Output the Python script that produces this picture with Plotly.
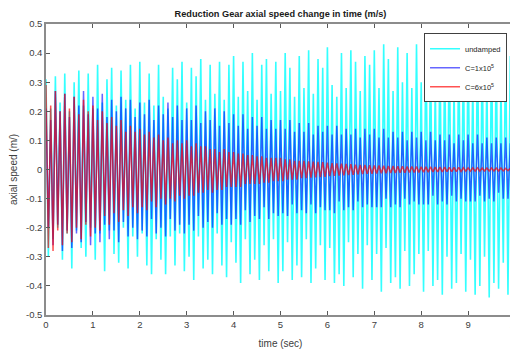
import numpy as np
import plotly.graph_objects as go

# Turning points (successive peaks) of each signal, 20 per second over 0..10 s
undamped = [
    0.31,-0.30, 0.21,-0.24, 0.32,-0.20, 0.23,-0.31, 0.33,-0.22, 0.20,-0.34, 0.30,-0.21, 0.34,-0.27, 0.22,-0.30, 0.33,-0.20,
    0.21,-0.31, 0.36,-0.22, 0.23,-0.35, 0.31,-0.21, 0.35,-0.29, 0.22,-0.32, 0.34,-0.20, 0.24,-0.34, 0.36,-0.23, 0.21,-0.30,
    0.37,-0.22, 0.23,-0.33, 0.33,-0.36, 0.22,-0.24, 0.36,-0.31, 0.25,-0.36, 0.21,-0.23, 0.35,-0.33, 0.31,-0.22, 0.37,-0.35,
    0.23,-0.30, 0.35,-0.38, 0.32,-0.23, 0.38,-0.34, 0.24,-0.31, 0.36,-0.36, 0.26,-0.22, 0.37,-0.33, 0.24,-0.37, 0.36,-0.25,
    0.39,-0.32, 0.25,-0.39, 0.37,-0.24, 0.27,-0.36, 0.40,-0.31, 0.24,-0.38, 0.36,-0.26, 0.38,-0.35, 0.26,-0.24, 0.37,-0.39,
    0.27,-0.35, 0.40,-0.25, 0.35,-0.38, 0.25,-0.33, 0.39,-0.37, 0.28,-0.24, 0.41,-0.39, 0.26,-0.34, 0.38,-0.26, 0.35,-0.38,
    0.42,-0.27, 0.29,-0.39, 0.25,-0.36, 0.40,-0.40, 0.28,-0.25, 0.41,-0.37, 0.37,-0.29, 0.27,-0.41, 0.39,-0.26, 0.36,-0.38,
    0.41,-0.29, 0.28,-0.42, 0.43,-0.27, 0.38,-0.39, 0.27,-0.37, 0.42,-0.41, 0.30,-0.28, 0.40,-0.40, 0.28,-0.36, 0.43,-0.29,
    0.30,-0.42, 0.44,-0.28, 0.39,-0.40, 0.29,-0.38, 0.42,-0.43, 0.38,-0.30, 0.44,-0.41, 0.29,-0.39, 0.41,-0.29, 0.39,-0.42,
    0.43,-0.31, 0.30,-0.43, 0.45,-0.40, 0.40,-0.30, 0.31,-0.44, 0.44,-0.39, 0.41,-0.41, 0.29,-0.32, 0.44,-0.43, 0.39,-0.45,
    0.42,
]
damped_1e5 = [
    0.21,-0.20, 0.17,-0.26, 0.27,-0.19, 0.20,-0.28, 0.26,-0.21, 0.18,-0.27, 0.25,-0.22, 0.22,-0.25, 0.27,-0.18, 0.19,-0.26,
    0.25,-0.22, 0.21,-0.25, 0.26,-0.19, 0.18,-0.24, 0.24,-0.21, 0.20,-0.25, 0.25,-0.18, 0.21,-0.23, 0.24,-0.20, 0.18,-0.24,
    0.23,-0.21, 0.19,-0.23, 0.24,-0.17, 0.17,-0.22, 0.22,-0.20, 0.19,-0.23, 0.23,-0.17, 0.18,-0.21, 0.22,-0.19, 0.17,-0.22,
    0.21,-0.19, 0.17,-0.21, 0.22,-0.16, 0.16,-0.20, 0.20,-0.18, 0.17,-0.20, 0.21,-0.15, 0.15,-0.19, 0.20,-0.17, 0.16,-0.19,
    0.19,-0.17, 0.15,-0.19, 0.19,-0.14, 0.14,-0.18, 0.18,-0.16, 0.15,-0.17, 0.18,-0.13, 0.14,-0.17, 0.17,-0.15, 0.14,-0.16,
    0.17,-0.15, 0.14,-0.16, 0.17,-0.12, 0.13,-0.15, 0.16,-0.14, 0.13,-0.15, 0.16,-0.12, 0.12,-0.15, 0.15,-0.13, 0.13,-0.14,
    0.15,-0.14, 0.12,-0.15, 0.15,-0.11, 0.12,-0.14, 0.14,-0.13, 0.12,-0.14, 0.14,-0.11, 0.11,-0.13, 0.14,-0.12, 0.12,-0.13,
    0.14,-0.13, 0.11,-0.13, 0.14,-0.10, 0.11,-0.13, 0.13,-0.12, 0.11,-0.13, 0.13,-0.10, 0.10,-0.12, 0.13,-0.11, 0.11,-0.12,
    0.13,-0.12, 0.10,-0.12, 0.13,-0.09, 0.10,-0.12, 0.12,-0.11, 0.10,-0.12, 0.12,-0.09, 0.09,-0.11, 0.12,-0.10, 0.10,-0.11,
    0.12,-0.11, 0.09,-0.11, 0.12,-0.09, 0.09,-0.11, 0.11,-0.10, 0.09,-0.11, 0.11,-0.08, 0.09,-0.10, 0.11,-0.10, 0.09,-0.10,
    0.10,
]
damped_6e5 = [
    0.29,-0.27, 0.22,-0.28, 0.27,-0.21, 0.20,-0.26, 0.26,-0.22, 0.21,-0.25, 0.25,-0.20, 0.19,-0.24, 0.24,-0.19, 0.20,-0.23,
    0.22,-0.20, 0.17,-0.21, 0.20,-0.16, 0.16,-0.19, 0.18,-0.15, 0.15,-0.18, 0.17,-0.14, 0.13,-0.16, 0.15,-0.13, 0.13,-0.15,
    0.14,-0.13, 0.12,-0.14, 0.13,-0.11, 0.11,-0.13, 0.12,-0.10, 0.10,-0.12, 0.11,-0.10, 0.09,-0.11, 0.10,-0.09, 0.09,-0.10,
    0.10,-0.09, 0.08,-0.09, 0.09,-0.08, 0.08,-0.08, 0.08,-0.07, 0.07,-0.08, 0.07,-0.07, 0.06,-0.07, 0.07,-0.06, 0.06,-0.06,
    0.06,-0.06, 0.055,-0.06, 0.055,-0.05, 0.05,-0.05, 0.05,-0.05, 0.045,-0.05, 0.045,-0.045, 0.04,-0.045, 0.04,-0.04, 0.04,-0.04,
    0.04,-0.04, 0.035,-0.035, 0.035,-0.035, 0.03,-0.035, 0.03,-0.03, 0.03,-0.03, 0.028,-0.028, 0.027,-0.027, 0.026,-0.026, 0.025,-0.025,
    0.024,-0.023, 0.022,-0.022, 0.021,-0.021, 0.02,-0.02, 0.019,-0.019, 0.018,-0.018, 0.017,-0.017, 0.016,-0.016, 0.016,-0.015, 0.015,-0.015,
    0.014,-0.014, 0.014,-0.013, 0.013,-0.013, 0.012,-0.012, 0.012,-0.012, 0.011,-0.011, 0.011,-0.011, 0.01,-0.01, 0.01,-0.01, 0.01,-0.01,
    0.009,-0.009, 0.009,-0.009, 0.009,-0.008, 0.008,-0.008, 0.008,-0.008, 0.008,-0.007, 0.007,-0.007, 0.007,-0.007, 0.007,-0.007, 0.006,-0.006,
    0.006,-0.006, 0.006,-0.006, 0.006,-0.006, 0.005,-0.005, 0.005,-0.005, 0.005,-0.005, 0.005,-0.005, 0.005,-0.005, 0.004,-0.004, 0.004,-0.004,
    0.004,
]
series_names = ["undamped", "C=1x10<sup>5</sup>", "C=6x10<sup>5</sup>"]
x_ticks = [0, 1, 2, 3, 4, 5, 6, 7, 8, 9, 10]
y_ticks = [-0.5, -0.4, -0.3, -0.2, -0.1, 0, 0.1, 0.2, 0.3, 0.4, 0.5]
y_tick_text = ["-0.5", "-0.4", "-0.3", "-0.2", "-0.1", "0", "0.1", "0.2", "0.3", "0.4", "0.5"]

colors = ["rgba(0,255,255,0.8)", "rgba(0,0,255,0.6)", "rgba(255,0,0,0.68)"]
widths = [1.6, 1.5, 1.5]

fig = go.Figure()
for vals, name, col, w in zip([undamped, damped_1e5, damped_6e5], series_names, colors, widths):
    t = np.linspace(0, 10, len(vals))
    fig.add_trace(go.Scatter(x=t, y=vals, mode="lines", name=name,
                             line=dict(color=col, width=w)))

# The page body adds an 8px margin, so the figure is 8px smaller than the window
W, H = 510, 348
font = "Liberation Sans, Arial, sans-serif"
fig.update_layout(
    width=W, height=H,
    margin=dict(l=38, r=3, t=16, b=41),
    paper_bgcolor="white", plot_bgcolor="white",
    font=dict(family=font, size=9, color="#404040"),
    title=dict(text="<b>Reduction Gear axial speed change in time (m/s)</b>",
               xref="paper", x=0.5, xanchor="center", y=1 - 5.5/H, yanchor="middle",
               font=dict(size=9.2, color="#1a1a1a", family=font)),
    showlegend=True,
    legend=dict(x=0.983, y=0.968, xanchor="right", yanchor="top",
                bgcolor="white", bordercolor="#404040", borderwidth=1,
                font=dict(size=7.5, color="#262626"), itemwidth=30,
                tracegroupgap=0),
)
fig.update_xaxes(range=[0, 10], tickvals=x_ticks, ticks="inside", ticklen=4,
                 showline=True, linecolor="#8c8c8c", linewidth=1.5, mirror="ticks",
                 tickcolor="#595959", showgrid=False, zeroline=False, automargin=False,
                 ticklabeloverflow="allow",
                 tickfont=dict(size=9.5, color="#404040"),
                 title=dict(text="time (sec)", font=dict(size=10, color="#404040"), standoff=11))
fig.update_yaxes(range=[-0.5, 0.5], tickvals=y_ticks, ticktext=y_tick_text,
                 ticks="inside", ticklen=4,
                 showline=True, linecolor="#8c8c8c", linewidth=1.5, mirror="ticks",
                 tickcolor="#595959", showgrid=False, zeroline=False, automargin=False,
                 tickfont=dict(size=9.5, color="#404040"),
                 title=dict(text="axial speed (m/)", font=dict(size=10, color="#404040"), standoff=6))

fig.write_html("out.html")
